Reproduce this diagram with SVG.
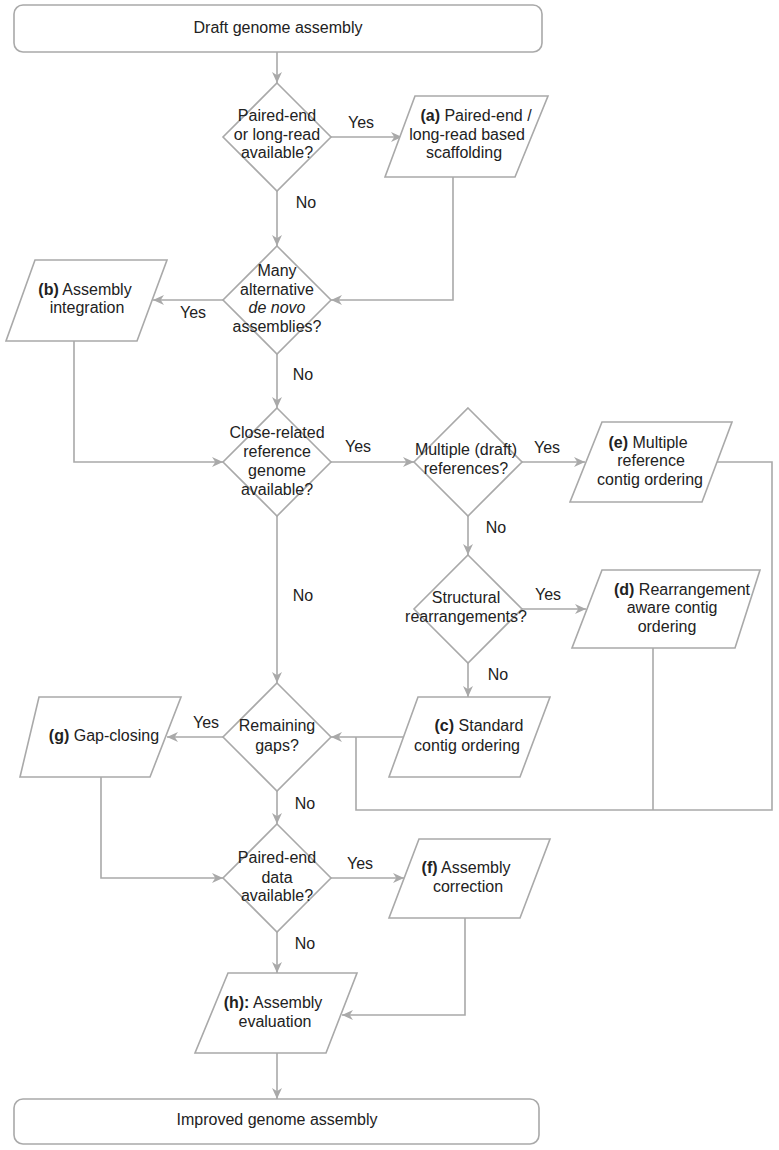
<svg xmlns="http://www.w3.org/2000/svg" width="779" height="1150" viewBox="0 0 779 1150">
<style>
.shape{fill:#fff;stroke:#a9a9a9;stroke-width:1.6}
.conn{fill:none;stroke:#a9a9a9;stroke-width:1.6}
text{font-family:"Liberation Sans",Arial,Helvetica,sans-serif;font-size:16px;fill:#222;text-anchor:middle}
.b{font-weight:bold}
.i{font-style:italic}
</style>
<defs>
<marker id="arr" viewBox="0 0 10 10" refX="10" refY="5" markerWidth="11" markerHeight="11" markerUnits="userSpaceOnUse" orient="auto">
<path d="M0,0.5 L10,5 L0,9.5 L3,5 z" fill="#a9a9a9"/>
</marker>
</defs>
<rect width="779" height="1150" fill="#fff"/>
<g id="connectors">
<line class="conn" x1="277" y1="52" x2="277" y2="83" marker-end="url(#arr)"/>
<line class="conn" x1="331" y1="137" x2="402" y2="137" marker-end="url(#arr)"/>
<path class="conn" d="M453,177 V300 H331" marker-end="url(#arr)"/>
<line class="conn" x1="277" y1="191" x2="277" y2="246" marker-end="url(#arr)"/>
<line class="conn" x1="223" y1="300" x2="153" y2="300" marker-end="url(#arr)"/>
<path class="conn" d="M74,341 V462 H223" marker-end="url(#arr)"/>
<line class="conn" x1="277" y1="354" x2="277" y2="408" marker-end="url(#arr)"/>
<line class="conn" x1="331" y1="462" x2="414" y2="462" marker-end="url(#arr)"/>
<line class="conn" x1="522" y1="462" x2="585" y2="462" marker-end="url(#arr)"/>
<path class="conn" d="M717,462 H772 V810 H356 V737"/>
<line class="conn" x1="468" y1="516" x2="468" y2="555" marker-end="url(#arr)"/>
<line class="conn" x1="522" y1="609" x2="586" y2="609" marker-end="url(#arr)"/>
<line class="conn" x1="653" y1="648" x2="653" y2="810"/>
<line class="conn" x1="468" y1="663" x2="468" y2="697" marker-end="url(#arr)"/>
<line class="conn" x1="404" y1="737" x2="331" y2="737" marker-end="url(#arr)"/>
<line class="conn" x1="277" y1="516" x2="277" y2="683" marker-end="url(#arr)"/>
<line class="conn" x1="223" y1="737" x2="167" y2="737" marker-end="url(#arr)"/>
<path class="conn" d="M101,777 V878 H223" marker-end="url(#arr)"/>
<line class="conn" x1="277" y1="791" x2="277" y2="824" marker-end="url(#arr)"/>
<line class="conn" x1="331" y1="878" x2="404" y2="878" marker-end="url(#arr)"/>
<line class="conn" x1="277" y1="932" x2="277" y2="973" marker-end="url(#arr)"/>
<path class="conn" d="M465,918 V1015 H342" marker-end="url(#arr)"/>
<line class="conn" x1="277" y1="1053" x2="277" y2="1099" marker-end="url(#arr)"/>
<text x="361" y="128">Yes</text>
<text x="306" y="208">No</text>
<text x="193" y="318">Yes</text>
<text x="303" y="380">No</text>
<text x="358" y="452">Yes</text>
<text x="547" y="453">Yes</text>
<text x="496" y="533">No</text>
<text x="548" y="600">Yes</text>
<text x="498" y="680">No</text>
<text x="303" y="601">No</text>
<text x="206" y="728">Yes</text>
<text x="305" y="809">No</text>
<text x="360" y="869">Yes</text>
<text x="305" y="949">No</text>
</g>
<g id="start">
<rect class="shape" x="14" y="5" width="528" height="47" rx="9"/>
<text x="278" y="33">Draft genome assembly</text>
</g>
<g id="q-paired-long">
<polygon class="shape" points="277,83 331,137 277,191 223,137"/>
<text x="277" y="121">Paired-end</text>
<text x="277" y="140">or long-read</text>
<text x="277" y="158">available?</text>
</g>
<g id="a-scaffolding">
<polygon class="shape" points="415,96 548,96 515,177 385,177"/>
<text x="476" y="121"><tspan class="b">(a)</tspan> Paired-end /</text>
<text x="467" y="140">long-read based</text>
<text x="464" y="158">scaffolding</text>
</g>
<g id="q-alternative">
<polygon class="shape" points="277,246 331,300 277,354 223,300"/>
<text x="277" y="276">Many</text>
<text x="277" y="295">alternative</text>
<text x="277" y="313" class="i">de novo</text>
<text x="277" y="332">assemblies?</text>
</g>
<g id="b-integration">
<polygon class="shape" points="35,260 167,260 137,341 6,341"/>
<text x="85" y="295"><tspan class="b">(b)</tspan> Assembly</text>
<text x="87" y="313">integration</text>
</g>
<g id="q-reference">
<polygon class="shape" points="277,408 331,462 277,516 223,462"/>
<text x="277" y="438">Close-related</text>
<text x="277" y="457">reference</text>
<text x="277" y="476">genome</text>
<text x="277" y="495">available?</text>
</g>
<g id="q-multiple">
<polygon class="shape" points="468,408 522,462 468,516 414,462"/>
<text x="466" y="455">Multiple (draft)</text>
<text x="466" y="474">references?</text>
</g>
<g id="e-multiple">
<polygon class="shape" points="602,422 732,422 702,502 570,502"/>
<text x="648" y="448"><tspan class="b">(e)</tspan> Multiple</text>
<text x="651" y="466">reference</text>
<text x="650" y="485">contig ordering</text>
</g>
<g id="q-structural">
<polygon class="shape" points="468,555 522,609 468,663 414,609"/>
<text x="466" y="603">Structural</text>
<text x="466" y="622">rearrangements?</text>
</g>
<g id="d-rearrangement">
<polygon class="shape" points="602,570 760,570 735,648 572,648"/>
<text x="682" y="595"><tspan class="b">(d)</tspan> Rearrangement</text>
<text x="672" y="613">aware contig</text>
<text x="667" y="632">ordering</text>
</g>
<g id="c-standard">
<polygon class="shape" points="418,697 550,697 520,777 389,777"/>
<text x="479" y="731"><tspan class="b">(c)</tspan> Standard</text>
<text x="467" y="751">contig ordering</text>
</g>
<g id="q-gaps">
<polygon class="shape" points="277,683 331,737 277,791 223,737"/>
<text x="277" y="731">Remaining</text>
<text x="277" y="751">gaps?</text>
</g>
<g id="g-gapclosing">
<polygon class="shape" points="39,697 181,697 150,777 20,777"/>
<text x="104" y="741"><tspan class="b">(g)</tspan> Gap-closing</text>
</g>
<g id="q-pairedend">
<polygon class="shape" points="277,824 331,878 277,932 223,878"/>
<text x="277" y="863">Paired-end</text>
<text x="277" y="883">data</text>
<text x="277" y="901">available?</text>
</g>
<g id="f-correction">
<polygon class="shape" points="419,839 550,839 520,918 389,918"/>
<text x="466" y="873"><tspan class="b">(f)</tspan> Assembly</text>
<text x="468" y="892">correction</text>
</g>
<g id="h-evaluation">
<polygon class="shape" points="228,973 357,973 326,1053 195,1053"/>
<text x="273" y="1008"><tspan class="b">(h):</tspan> Assembly</text>
<text x="275" y="1027">evaluation</text>
</g>
<g id="end">
<rect class="shape" x="14" y="1099" width="525" height="45" rx="9"/>
<text x="277" y="1125">Improved genome assembly</text>
</g>
</svg>
